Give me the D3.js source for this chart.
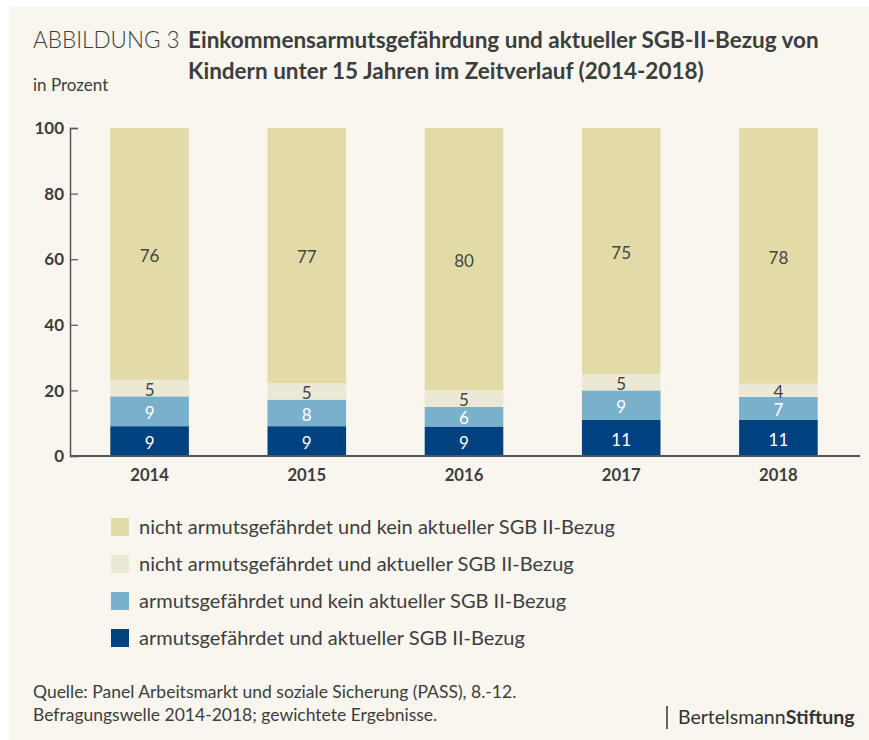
<!DOCTYPE html>
<html>
<head>
<meta charset="utf-8">
<script src="https://cdn.jsdelivr.net/npm/d3@7"></script>
<style>
  html, body { margin: 0; padding: 0; background: #fff; }
  svg { display: block; font-family: Lato, sans-serif; }
</style>
</head>
<body>
<svg id="chart" width="869" height="740"></svg>
<script>
// chart data
const years = ["2014", "2015", "2016", "2017", "2018"];
const keys = ["armAkt", "armKein", "nichtAkt", "nichtKein"]; // bottom to top
const armAkt = [9, 9, 9, 11, 11];       // armutsgefährdet und aktueller SGB II-Bezug
const armKein = [9, 8, 6, 9, 7];        // armutsgefährdet und kein aktueller SGB II-Bezug
const nichtAkt = [5, 5, 5, 5, 4];       // nicht armutsgefährdet und aktueller SGB II-Bezug
const nichtKein = [76, 77, 80, 75, 78]; // nicht armutsgefährdet und kein aktueller SGB II-Bezug
const yTicks = [0, 20, 40, 60, 80, 100];
const legendLabels = [
  "nicht armutsgefährdet und kein aktueller SGB II-Bezug",
  "nicht armutsgefährdet und aktueller SGB II-Bezug",
  "armutsgefährdet und kein aktueller SGB II-Bezug",
  "armutsgefährdet und aktueller SGB II-Bezug"
];
const legendKeys = ["nichtKein", "nichtAkt", "armKein", "armAkt"];

const colors = { armAkt: "#00427f", armKein: "#79b0cb", nichtAkt: "#ece8d6", nichtKein: "#e2dba8" };
const labelColors = { armAkt: "#fff", armKein: "#fff", nichtAkt: "#444", nichtKein: "#444" };

const rows = years.map((y, i) => ({
  year: y, armAkt: armAkt[i], armKein: armKein[i], nichtAkt: nichtAkt[i], nichtKein: nichtKein[i]
}));

const svg = d3.select("#chart");
const textCol = "#3d3d3d";

// cream background with white margin top/left
svg.append("rect").attr("x", 9).attr("y", 7).attr("width", 860).attr("height", 733).attr("fill", "#f8f6ef");

// titles
svg.append("text").attr("x", 33).attr("y", 48).attr("font-size", 22.5).attr("font-weight", 300)
  .attr("fill", textCol).text("ABBILDUNG 3");
svg.append("text").attr("x", 188).attr("y", 48).attr("font-size", 22.5).attr("font-weight", 700)
  .attr("fill", textCol).text("Einkommensarmutsgefährdung und aktueller SGB-II-Bezug von");
svg.append("text").attr("x", 188).attr("y", 79).attr("font-size", 22.5).attr("font-weight", 700)
  .attr("fill", textCol).text("Kindern unter 15 Jahren im Zeitverlauf (2014-2018)");
svg.append("text").attr("x", 33).attr("y", 91).attr("font-size", 17)
  .attr("fill", textCol).text("in Prozent");

// scales
const m = { left: 70, right: 860, top: 128, bottom: 456 };
const x = d3.scaleBand().domain(years).range([m.left + 1, m.right - 3]).paddingInner(0.5).paddingOuter(0.25);
const y = d3.scaleLinear().domain([0, 1]).range([m.bottom, m.top]);

const stacked = d3.stack().keys(keys).offset(d3.stackOffsetExpand)(rows);

const g = svg.append("g");
stacked.forEach(layer => {
  g.selectAll(null)
    .data(layer)
    .join("rect")
    .attr("x", d => x(d.data.year))
    .attr("width", x.bandwidth())
    .attr("y", d => y(d[1]))
    .attr("height", d => y(d[0]) - y(d[1]))
    .attr("fill", colors[layer.key]);

  g.selectAll(null)
    .data(layer)
    .join("text")
    .attr("x", d => x(d.data.year) + x.bandwidth() / 2)
    .attr("y", d => (y(d[0]) + y(d[1])) / 2)
    .attr("dy", "0.45em")
    .attr("text-anchor", "middle")
    .attr("font-size", 17)
    .attr("fill", labelColors[layer.key])
    .text(d => d.data[layer.key]);
});

// y axis
const yAxis = svg.append("g")
  .attr("transform", `translate(${m.left},0)`)
  .call(d3.axisRight(y).tickValues(yTicks.map(t => t / 100)).tickSize(8).tickFormat(""));
yAxis.select(".domain").attr("stroke", "#555").attr("stroke-width", 1.5);
yAxis.selectAll(".tick line").attr("stroke", "#555").attr("stroke-width", 1.2);
svg.append("g").selectAll("text")
  .data(yTicks)
  .join("text")
  .attr("x", m.left - 6)
  .attr("y", d => y(d / 100))
  .attr("dy", "0.36em")
  .attr("text-anchor", "end")
  .attr("font-size", 17)
  .attr("font-weight", 700)
  .attr("fill", textCol)
  .text(d => d);

// x axis
const xAxis = svg.append("g")
  .attr("transform", `translate(0,${m.bottom})`)
  .call(d3.axisBottom(x).tickSize(0).tickPadding(13));
xAxis.select(".domain").attr("d", `M${m.left},0H${m.right}`).attr("stroke", "#555").attr("stroke-width", 2);
xAxis.selectAll("text").attr("font-family", "Lato, sans-serif").attr("font-size", 16.7)
  .attr("font-weight", 700).attr("fill", textCol);

// legend
const legend = svg.append("g").attr("transform", "translate(111,518)");
legendKeys.forEach((k, i) => {
  const row = legend.append("g").attr("transform", `translate(0,${i * 37})`);
  row.append("rect").attr("width", 18).attr("height", 18).attr("fill", colors[k]);
  row.append("text").attr("x", 28).attr("y", 9).attr("dy", "0.36em")
    .attr("font-size", 20).attr("fill", textCol).text(legendLabels[i]);
});

// footer
svg.append("text").attr("x", 33).attr("y", 698).attr("font-size", 17.5).attr("fill", textCol)
  .text("Quelle: Panel Arbeitsmarkt und soziale Sicherung (PASS), 8.-12.");
svg.append("text").attr("x", 33).attr("y", 721).attr("font-size", 17.5).attr("fill", textCol)
  .text("Befragungswelle 2014-2018; gewichtete Ergebnisse.");
svg.append("line").attr("x1", 667).attr("x2", 667).attr("y1", 706).attr("y2", 729)
  .attr("stroke", "#333").attr("stroke-width", 1.5);
const brand = svg.append("text").attr("x", 678).attr("y", 724).attr("font-size", 19.5).attr("fill", "#333");
brand.append("tspan").text("Bertelsmann");
brand.append("tspan").attr("font-weight", 700).text("Stiftung");
</script>
</body>
</html>
